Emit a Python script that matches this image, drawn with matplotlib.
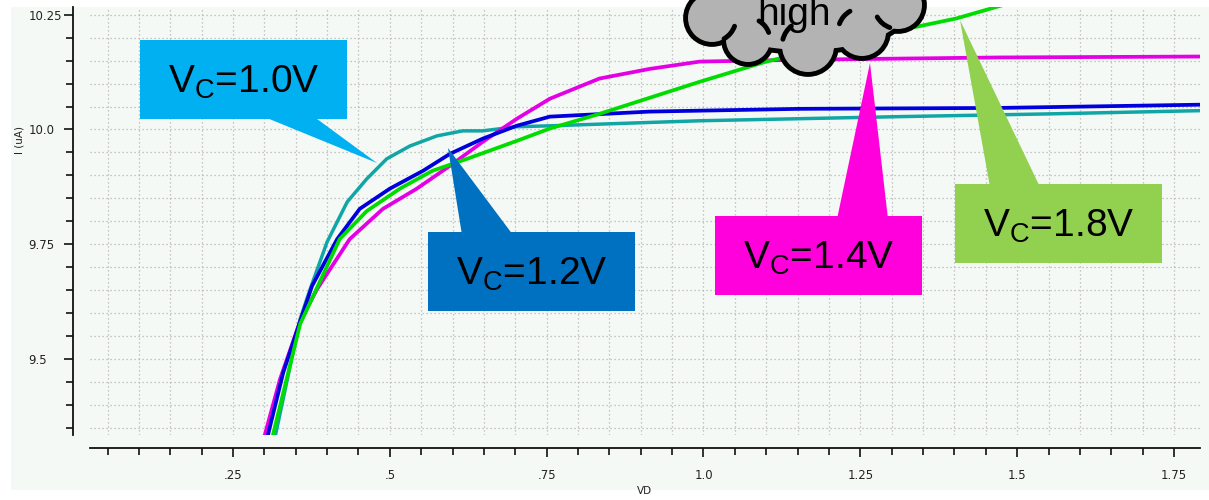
"""Drain current vs VD for several control voltages, with callout labels."""

import matplotlib

matplotlib.use("Agg")
import matplotlib.pyplot as plt  # noqa: E402
import matplotlib.patches as mpatches  # noqa: E402
import matplotlib.transforms as mtransforms  # noqa: E402
from matplotlib.ticker import FixedLocator, MultipleLocator  # noqa: E402

W, H = 1209, 500

# curve data (VD in V, I in uA)
vd_10 = [0.318, 0.357, 0.373, 0.400, 0.432, 0.463, 0.495, 0.532, 0.575, 0.616,
         0.648, 0.702, 0.755, 0.994, 1.312, 1.551, 1.790]
i_10 = [9.336, 9.587, 9.652, 9.755, 9.842, 9.892, 9.936, 9.964, 9.986, 9.997,
        9.997, 10.006, 10.008, 10.019, 10.028, 10.034, 10.041]

vd_12 = [0.306, 0.330, 0.357, 0.376, 0.416, 0.452, 0.500, 0.553, 0.596, 0.648,
         0.702, 0.755, 0.914, 1.153, 1.471, 1.790]
i_12 = [9.336, 9.470, 9.582, 9.659, 9.761, 9.827, 9.871, 9.910, 9.947, 9.980,
        10.008, 10.028, 10.039, 10.045, 10.047, 10.054]

vd_14 = [0.301, 0.325, 0.357, 0.384, 0.436, 0.489, 0.543, 0.596, 0.648, 0.702,
         0.755, 0.834, 0.914, 0.994, 1.153, 1.471, 1.790]
i_14 = [9.336, 9.456, 9.582, 9.652, 9.761, 9.827, 9.871, 9.921, 9.973, 10.023,
        10.067, 10.111, 10.132, 10.148, 10.152, 10.157, 10.159]

vd_18 = [0.314, 0.357, 0.420, 0.463, 0.516, 0.568, 0.623, 0.702, 0.755, 0.834,
         0.994, 1.100, 1.301, 1.403, 1.487]
i_18 = [9.336, 9.576, 9.761, 9.822, 9.871, 9.910, 9.936, 9.975, 10.002, 10.034,
        10.104, 10.148, 10.213, 10.242, 10.275]

x_ticks = [0.25, 0.5, 0.75, 1.0, 1.25, 1.5, 1.75]
x_tick_labels = [".25", ".5", ".75", "1.0", "1.25", "1.5", "1.75"]
y_ticks = [9.5, 9.75, 10.0, 10.25]
y_tick_labels = ["9.5", "9.75", "10.0", "10.25"]

callout_labels = ["1.0V", "1.2V", "1.4V", "1.8V"]

plt.rcParams["mathtext.default"] = "regular"

fig = plt.figure(figsize=(W / 100, H / 100), dpi=100)
# pixel coordinates, origin at top-left
PX = mtransforms.Affine2D().scale(1 / W, -1 / H).translate(0, 1) + fig.transFigure

bg = "#f5f9f6"
fig.add_artist(mpatches.Rectangle((11, 7), W - 11, 483, transform=PX,
                                  facecolor=bg, edgecolor="none", zorder=-5))

ax = fig.add_axes([90 / W, 65 / H, 1110 / W, 428 / H])
ax.set_facecolor(bg)

ax.plot(vd_10, i_10, color="#10a6a6", lw=2.5)
ax.plot(vd_14, i_14, color="#e400e4", lw=2.7)
ax.plot(vd_12, i_12, color="#0000dc", lw=2.7)
ax.plot(vd_18, i_18, color="#00dc00", lw=2.7)

ax.set_xlim(0.022, 1.7915)
ax.set_ylim(9.334, 10.267)

ax.xaxis.set_major_locator(FixedLocator(x_ticks))
ax.set_xticklabels(x_tick_labels)
ax.xaxis.set_minor_locator(MultipleLocator(0.05))
ax.yaxis.set_major_locator(FixedLocator(y_ticks))
ax.set_yticklabels(y_tick_labels)
ax.yaxis.set_minor_locator(MultipleLocator(0.05))

ax.grid(which="both", color="#b4b4b4", linestyle=(0, (1, 2.2)), linewidth=0.9)
for side in ("top", "right"):
    ax.spines[side].set_visible(False)
ax.spines["left"].set_position(("outward", 12))
ax.spines["bottom"].set_position(("outward", 9))
for side in ("left", "bottom"):
    ax.spines[side].set_linewidth(1.3)
    ax.spines[side].set_color("#111111")

ax.tick_params(which="major", length=6.5, width=1.2, color="#111111",
               labelsize=8.5, labelcolor="#222222")
ax.tick_params(which="minor", length=5, width=1.2, color="#111111")
ax.tick_params(axis="y", which="major", pad=26)
ax.tick_params(axis="x", which="major", pad=9)
for t in ax.get_yticklabels():
    t.set_ha("left")

fig.text(19, 140, "I (uA)", transform=PX, rotation=90, ha="center",
         va="center", fontsize=7.5, color="#222222")
fig.text(644, 491, "VD", transform=PX, ha="center", va="center",
         fontsize=7.5, color="#222222")

# callouts: box (x0, y0), tail base (xa, xb), tail tip (xt, yt), colour
callouts = [
    ((140, 40), (262, 313), (377, 163), "#00b0f0"),
    ((428, 232), (462, 513), (448, 148), "#0070c0"),
    ((715, 216), (837, 888), (870, 63), "#ff00dc"),
    ((955, 184), (990, 1040), (960, 20), "#92d050"),
]
bw, bh = 207, 79
for label, ((x0, y0), (xa, xb), (xt, yt), col) in zip(callout_labels, callouts):
    fig.add_artist(mpatches.Rectangle((x0, y0), bw, bh, transform=PX,
                                      facecolor=col, edgecolor="none", zorder=3))
    if yt > y0:
        base_y = y0 + bh - 3
    else:
        base_y = y0 + 3
    fig.add_artist(mpatches.Polygon([(xa, base_y), (xb, base_y), (xt, yt)],
                                    closed=True, transform=PX, facecolor=col,
                                    edgecolor="none", zorder=3))
    fig.text(x0 + bw / 2, y0 + 53, r"$V_C$=" + label, transform=PX,
             ha="center", va="baseline", fontsize=28,
             family="Liberation Sans", color="black", zorder=4)

# cloud: overlapping lobes, outline first, then fill, then inner stubs
lobes = [(712, 18, 24), (748, 40, 22), (808, 46, 26), (862, 32, 24),
         (898, 5, 24), (760, -15, 32), (850, -15, 32)]
stubs = [(712, 18, 24, 20, 60), (748, 40, 22, 300, 340),
         (808, 46, 26, 195, 230), (862, 32, 24, 200, 240),
         (898, 5, 24, 110, 150)]
body = ((805, 10), 200, 80)
cloud_parts = [mpatches.Circle((cx, cy), r) for cx, cy, r in lobes]
cloud_parts.append(mpatches.Ellipse(*body))
for part in cloud_parts:
    part.set(transform=PX, facecolor="black", edgecolor="black", lw=7,
             zorder=5, clip_on=False)
    fig.add_artist(part)
for cx, cy, r in lobes:
    fig.add_artist(mpatches.Circle((cx, cy), r, transform=PX, facecolor="#b3b3b3",
                                   edgecolor="none", zorder=6, clip_on=False))
fig.add_artist(mpatches.Ellipse(*body, transform=PX, facecolor="#b3b3b3",
                                edgecolor="none", zorder=6, clip_on=False))
for cx, cy, r, t1, t2 in stubs:
    fig.add_artist(mpatches.Arc((cx, cy), 2 * r, 2 * r, theta1=t1, theta2=t2,
                                transform=PX, color="black", lw=3.5, zorder=7,
                                capstyle="round"))
fig.text(794, 25, "high", transform=PX, ha="center", va="baseline",
         fontsize=28, family="Liberation Sans", color="black", zorder=8)

fig.savefig("out.png", dpi=100)
